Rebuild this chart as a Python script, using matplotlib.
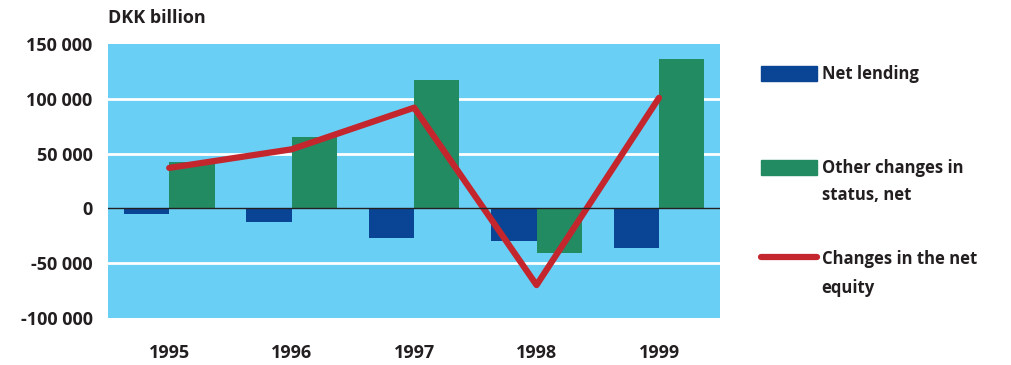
import numpy as np
import matplotlib.pyplot as plt
from matplotlib.patches import Rectangle
from matplotlib.lines import Line2D

plt.rcParams['font.family'] = ['Open Sans', 'DejaVu Sans']
plt.rcParams['font.weight'] = 'bold'

# Dati (DKK billion)
years = ['1995', '1996', '1997', '1998', '1999']
net_lending = [-5500, -12500, -27000, -30000, -36500]
other_changes = [42500, 65000, 117500, -41000, 136500]
net_equity = [37000, 54000, 92000, -70000, 101000]
yticks = [-100000, -50000, 0, 50000, 100000, 150000]

bg = '#6ACFF5'
blue = '#0A4595'
green = '#238B62'
red = '#C4262E'
txt = '#231F20'

fig = plt.figure(figsize=(10.12, 3.65), dpi=100)
ax = fig.add_axes([0.1067, 0.129, 0.605, 0.750])
ax.set_facecolor(bg)

x = np.arange(len(years))
w = 0.37
ax.bar(x - w / 2, net_lending, width=w, color=blue, zorder=3)
ax.bar(x + w / 2, other_changes, width=w, color=green, zorder=3)
ax.plot(x, net_equity, color=red, linewidth=4.5, solid_capstyle='round',
        solid_joinstyle='round', zorder=4)

ax.set_xlim(-0.5, len(years) - 0.5)
ax.set_ylim(-100000, 150000)
ax.set_yticks(yticks)
ax.set_yticklabels([f"{v:,}".replace(',', ' ') for v in yticks])
ax.set_xticks(x)
ax.set_xticklabels(years)
ax.tick_params(length=0, labelsize=13, colors=txt)
ax.tick_params(axis='x', pad=19)
ax.tick_params(axis='y', pad=11)
for v in yticks[1:-1]:
    if v != 0:
        ax.axhline(v, color='white', linewidth=2, zorder=2)
ax.axhline(0, color=txt, linewidth=1, zorder=5)
for s in ax.spines.values():
    s.set_visible(False)

fig.text(0.1067, 0.95, 'DKK billion', fontsize=13, color=txt, va='center')

# Legenda
fig.patches.append(Rectangle((0.752, 0.778), 0.055, 0.042, color=blue,
                             transform=fig.transFigure, figure=fig))
fig.text(0.812, 0.797, 'Net lending', fontsize=12, color=txt, va='center')
fig.patches.append(Rectangle((0.752, 0.520), 0.055, 0.042, color=green,
                             transform=fig.transFigure, figure=fig))
fig.text(0.812, 0.540, 'Other changes in', fontsize=12, color=txt, va='center')
fig.text(0.812, 0.465, 'status, net', fontsize=12, color=txt, va='center')
fig.lines.append(Line2D([0.752, 0.807], [0.297, 0.297], color=red, linewidth=4.5,
                        solid_capstyle='round', transform=fig.transFigure, figure=fig))
fig.text(0.812, 0.290, 'Changes in the net', fontsize=12, color=txt, va='center')
fig.text(0.812, 0.212, 'equity', fontsize=12, color=txt, va='center')

fig.savefig('out.png', dpi=100)
